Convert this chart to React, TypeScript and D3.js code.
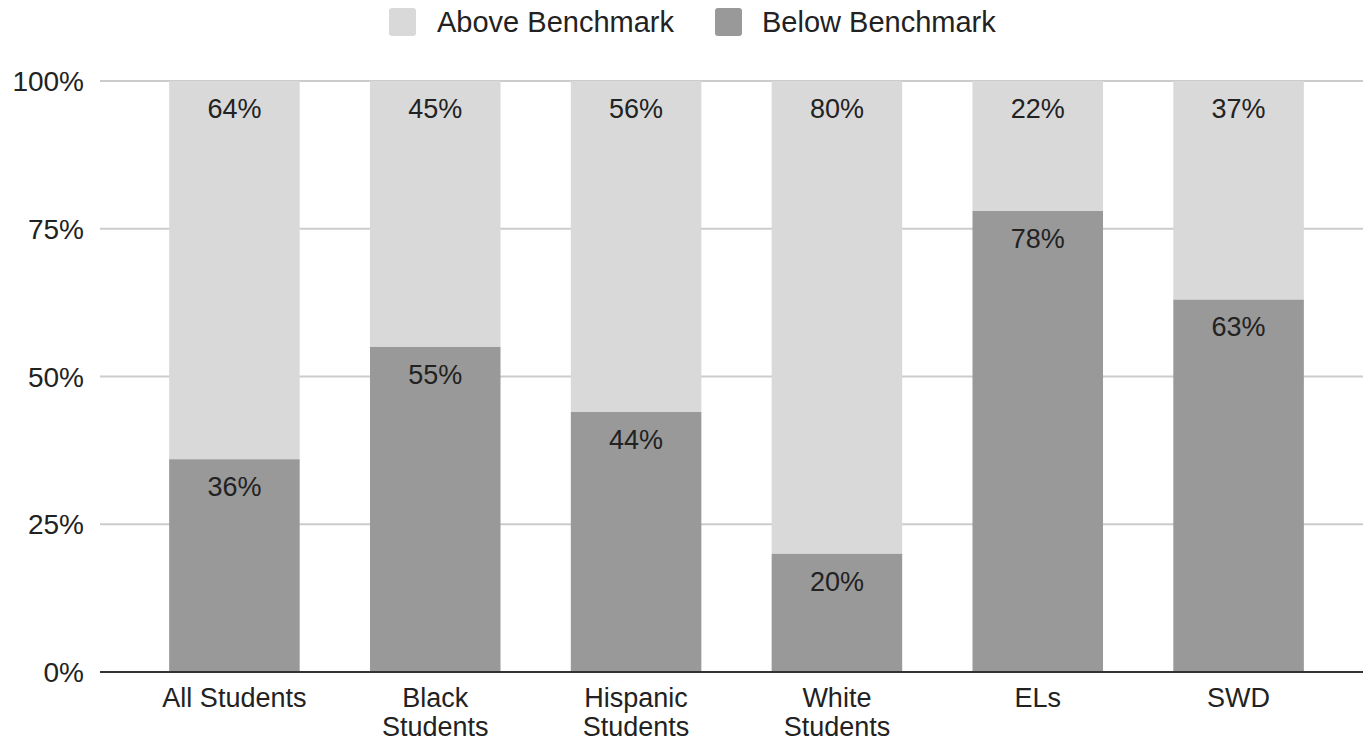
import React from "react";
import * as d3 from "d3";

const categories: string[][] = [
  ["All Students"],
  ["Black", "Students"],
  ["Hispanic", "Students"],
  ["White", "Students"],
  ["ELs"],
  ["SWD"],
];
const belowValues = [36, 55, 44, 20, 78, 63];
const aboveValues = [64, 45, 56, 80, 22, 37];
const seriesNames = ["Above Benchmark", "Below Benchmark"];
const yTicks = [0, 25, 50, 75, 100];

const W = 1363;
const H = 742;
const FONT = "'Liberation Sans', Arial, sans-serif";
const ABOVE = "#d9d9d9";
const BELOW = "#999999";
const TEXT = "#222222";

export default function App() {
  const keys = categories.map((c) => c.join(" "));
  const x = d3
    .scaleBand<string>()
    .domain(keys)
    .range([134, 1339])
    .paddingInner(0.35)
    .paddingOuter(0.175);
  const y = d3.scaleLinear().domain([0, 100]).range([672, 81]);

  return (
    <svg
      width={W}
      height={H}
      style={{ position: "absolute", left: 0, top: 0, background: "#fff" }}
      fontFamily={FONT}
    >
      {/* legend */}
      <g>
        <rect x={389} y={8} width={27} height={28} rx={3} fill={ABOVE} />
        <text x={437} y={32} fontSize={29} fill={TEXT}>
          {seriesNames[0]}
        </text>
        <rect x={715} y={8} width={27} height={28} rx={3} fill={BELOW} />
        <text x={762} y={32} fontSize={29} fill={TEXT}>
          {seriesNames[1]}
        </text>
      </g>

      {/* gridlines */}
      {yTicks.map((t) => (
        <g key={t}>
          {t !== 0 && (
            <line x1={100} x2={1363} y1={y(t)} y2={y(t)} stroke="#cccccc" strokeWidth={2} />
          )}
          <text
            x={84}
            y={y(t)}
            dy="0.36em"
            textAnchor="end"
            fontSize={28}
            fill={TEXT}
          >
            {t}%
          </text>
        </g>
      ))}

      {/* bars */}
      {keys.map((k, i) => {
        const x0 = x(k)!;
        const bw = x.bandwidth();
        const b = belowValues[i];
        const a = aboveValues[i];
        return (
          <g key={k}>
            <rect x={x0} y={y(b + a)} width={bw} height={y(b) - y(b + a)} fill={ABOVE} />
            <rect x={x0} y={y(b)} width={bw} height={y(0) - y(b)} fill={BELOW} />
            <text
              x={x0 + bw / 2}
              y={y(b + a) + 27}
              dy="0.36em"
              textAnchor="middle"
              fontSize={27}
              fill={TEXT}
            >
              {a}%
            </text>
            <text
              x={x0 + bw / 2}
              y={y(b) + 27}
              dy="0.36em"
              textAnchor="middle"
              fontSize={27}
              fill={TEXT}
            >
              {b}%
            </text>
          </g>
        );
      })}

      {/* baseline */}
      <line x1={100} x2={1363} y1={y(0)} y2={y(0)} stroke="#333333" strokeWidth={2} />

      {/* category labels */}
      {categories.map((lines, i) =>
        lines.map((l, j) => (
          <text
            key={`${i}-${j}`}
            x={x(keys[i])! + x.bandwidth() / 2}
            y={707 + j * 29}
            textAnchor="middle"
            fontSize={27}
            fill={TEXT}
          >
            {l}
          </text>
        ))
      )}
    </svg>
  );
}
